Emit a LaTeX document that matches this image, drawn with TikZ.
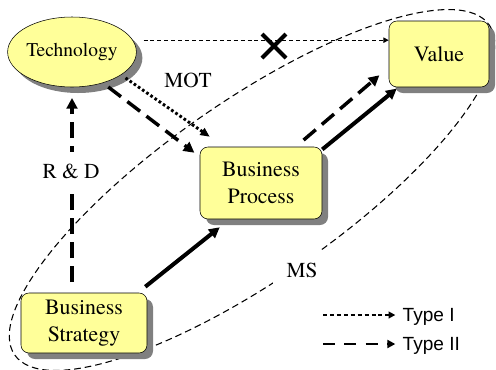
\documentclass[tikz,border=0pt]{standalone}
\usepackage{fontspec}
\setmainfont{TeX Gyre Termes}
\setsansfont{Liberation Sans}
\usepackage{tikz}
\usetikzlibrary{arrows.meta,shapes.geometric,shapes.misc,shadows}
\definecolor{paleyellow}{RGB}{255,255,153}

\begin{document}
\begin{tikzpicture}[x=0.75pt,y=-0.75pt]
\useasboundingbox (0,0) rectangle (496,369);
\tikzstyle{shade}=[drop shadow={shadow xshift=4.5pt,shadow yshift=-4.5pt,fill=gray,opacity=1}]
\tikzstyle{block}=[draw=black,fill=paleyellow,rounded corners=6pt,align=center,shade,font=\rmfamily\fontsize{16.4}{20}\selectfont]
\tikzstyle{lbl}=[fill=white,inner xsep=2pt,font=\rmfamily\fontsize{16}{19}\selectfont]
\tikzstyle{solidarrow}=[line width=3pt,-{Triangle[length=8pt,width=8pt]}]
\tikzstyle{dasharrow}=[line width=2.6pt,dash pattern=on 12pt off 6pt,-{Triangle[length=8pt,width=8pt]}]
\tikzstyle{dotarrow}=[line width=2.2pt,dash pattern=on 2pt off 1.8pt,-{Triangle[length=7pt,width=6pt]}]
\tikzstyle{legend}=[anchor=west,font=\sffamily\fontsize{14.3}{17}\selectfont]
% MS region
\draw[line width=0.8pt,dash pattern=on 5pt off 3pt,rotate around={34.8:(252,190)}] (252,190) ellipse [x radius=289,y radius=89];
% main nodes
\node[ellipse,draw=black,fill=paleyellow,shade,inner sep=0pt,minimum width=89pt,minimum height=52.5pt,font=\rmfamily\fontsize{14.6}{17}\selectfont] (1) at (72,52) {Technology};
\node[block,minimum width=75pt,minimum height=49.5pt] (2) at (439,54) {Value};
\node[block,minimum width=91.5pt,minimum height=54pt] (3) at (261,183) {Business\\Process};
\node[block,minimum width=94.5pt,minimum height=45pt] (4) at (84,323) {Business\\Strategy};
% connectors
\draw[line width=0.8pt,dash pattern=on 3pt off 2.2pt,shorten <=8pt,-{Triangle[length=4pt,width=4pt]}] (1.11) -- (1.11 -| 2.west);
\draw[dotarrow,shorten <=4pt] (1.-25) -- ([xshift=7.5pt,yshift=7.5pt]3.north west);
\draw[dasharrow,shorten <=5pt] (1.-45) -- ([xshift=-4pt,yshift=-4.5pt]3.north west);
\draw[dasharrow,shorten <=8pt,shorten >=8pt] (1.south |- 4.north) -- (1.south);
\draw[solidarrow] ([xshift=-1.5pt,yshift=4.5pt]4.north east) -- ([xshift=15pt,yshift=-6pt]3.south west);
\draw[solidarrow] ([yshift=-2pt]3.north east) -- ([xshift=6pt,yshift=-1pt]2.south west);
\draw[dasharrow] ([xshift=-14pt,yshift=5pt]3.north east) -- ([xshift=-7pt,yshift=9pt]2.south west);
% labels
\node[cross out,draw=black,line width=3pt,minimum size=15pt,inner sep=0pt] (x) at (274,46) {};
\node[font=\rmfamily\fontsize{16}{19}\selectfont] (mot) at (188,80) {MOT};
\node[lbl,inner ysep=9pt] (rd) at (71,171) {R \& D};
\node[lbl,inner xsep=10pt,inner ysep=9pt] (ms) at (302,270) {MS};
% legend
\node[legend] (t1) at (398,317) {Type I};
\node[legend] (t2) at (398,346) {Type II};
\coordinate (l1) at (323,315);
\coordinate (l2) at (323,344);
\draw[line width=2.2pt,dash pattern=on 3pt off 2.2pt,shorten >=2pt,-{Triangle[length=5pt,width=5pt]}] (l1) -- (l1 -| t1.west);
\draw[line width=2.2pt,dash pattern=on 9pt off 7pt,shorten >=2pt,-{Triangle[length=6pt,width=6pt]}] (l2) -- (l2 -| t2.west);
\end{tikzpicture}
\end{document}
